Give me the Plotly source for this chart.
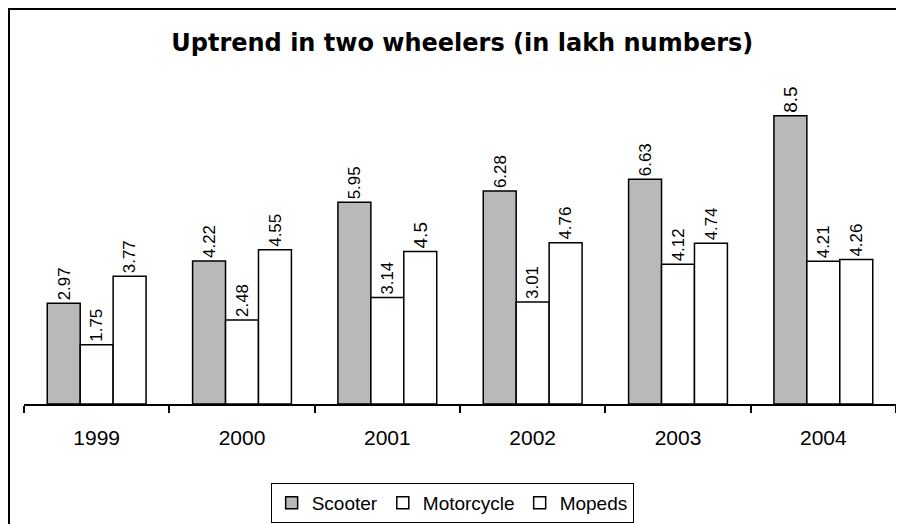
import plotly.graph_objects as go

# Two wheeler sales data (lakh numbers)
years = ["1999", "2000", "2001", "2002", "2003", "2004"]
scooter = [2.97, 4.22, 5.95, 6.28, 6.63, 8.5]
motorcycle = [1.75, 2.48, 3.14, 3.01, 4.12, 4.21]
mopeds = [3.77, 4.55, 4.5, 4.76, 4.74, 4.26]

series = [
    ("Scooter", scooter, "#b9b9b9"),
    ("Motorcycle", motorcycle, "white"),
    ("Mopeds", mopeds, "white"),
]

fnt = "Liberation Sans, Arial"

fig = go.Figure()
for name, vals, col in series:
    fig.add_trace(go.Bar(
        x=years, y=vals, name=name,
        marker=dict(color=col, line=dict(color="black", width=1.5)),
        text=[str(v) for v in vals],
        textposition="outside", textangle=-90,
        textfont=dict(family=fnt, size=19, color="black"),
        cliponaxis=False,
    ))

# page body adds an 8px offset, so the figure is 8px smaller than the window
fig.update_layout(
    width=896, height=516,
    margin=dict(l=16, r=8, t=57, b=120, autoexpand=False),
    paper_bgcolor="white", plot_bgcolor="white",
    barmode="group", bargap=0.32, bargroupgap=0,
    title=dict(text="<b>Uptrend in two wheelers (in lakh numbers)</b>",
               x=0.507, xanchor="center", y=0.932, yanchor="middle",
               font=dict(family="DejaVu Sans", size=24, color="black")),
    showlegend=True,
    legend=dict(orientation="h", x=0.491, xanchor="center", y=-0.233, yanchor="top",
                bordercolor="black", borderwidth=1, bgcolor="white",
                font=dict(family=fnt, size=19, color="black"),
                itemwidth=30, tracegroupgap=0),
    xaxis=dict(showline=True, linecolor="black", linewidth=1.5,
               ticks="outside", tickson="boundaries", ticklen=7, tickcolor="black",
               tickwidth=1.5, ticklabelstandoff=14,
               tickfont=dict(family=fnt, size=21, color="black"),
               showgrid=False),
    yaxis=dict(range=[0, 10], visible=False, showgrid=False),
    shapes=[dict(type="rect", xref="paper", yref="paper",
                 x0=-0.0172, x1=1.05, y0=-0.5, y1=1.165,
                 line=dict(color="black", width=2))],
)

fig.write_html("out.html")
